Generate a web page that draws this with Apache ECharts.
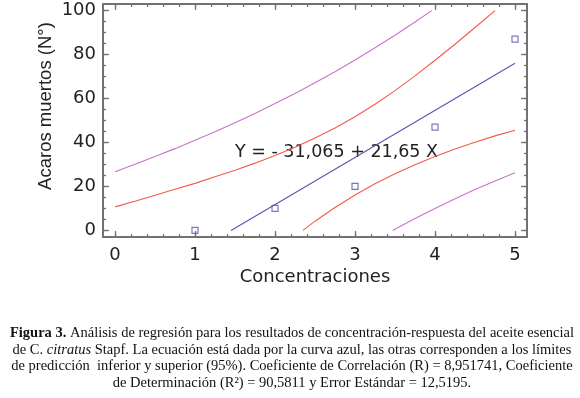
<!DOCTYPE html>
<html>
<head>
<meta charset="utf-8">
<script src="https://cdn.jsdelivr.net/npm/echarts@6/dist/echarts.min.js"></script>
<style>html,body{margin:0;padding:0;background:#fff}#c{width:580px;height:398px}</style>
</head>
<body>
<div id="c"></div>
<script>
// Observed data points
const concentraciones = [1, 2, 3, 4, 5];
const acarosMuertos = [0, 10, 20, 47, 87];
// Regression line (blue)
const ajuste = [[1.45, 0], [5, 76]];
// Upper / lower confidence limits (red)
const limSupConf = [[0, 10.7], [0.25, 13.3], [0.5, 16], [0.75, 18.7], [1, 21.4], [1.25, 24.4], [1.5, 27.4], [1.75, 30.6], [2, 34.1], [2.25, 37.8], [2.5, 42], [2.75, 46.6], [3, 51.7], [3.25, 57.4], [3.5, 63.6], [3.75, 70.3], [4, 77.4], [4.25, 84.7], [4.5, 92.3], [4.75, 100]];
const limInfConf = [[2.35, 0], [2.5, 4.2], [2.75, 10.4], [3, 16.1], [3.25, 21.2], [3.5, 25.8], [3.75, 29.9], [4, 33.6], [4.25, 37], [4.5, 40.1], [4.75, 43], [5, 45.6]];
// Upper / lower prediction limits (purple)
const limSupPred = [[0, 26.7], [0.25, 30.1], [0.5, 33.6], [0.75, 37.2], [1, 41], [1.25, 44.9], [1.5, 49], [1.75, 53.2], [2, 57.7], [2.25, 62.3], [2.5, 67.2], [2.75, 72.2], [3, 77.5], [3.25, 83.1], [3.5, 88.8], [3.75, 94.8], [3.96, 100]];
const limInfPred = [[3.47, 0], [3.75, 5.4], [4, 10], [4.25, 14.4], [4.5, 18.6], [4.75, 22.5], [5, 26.2]];
// Tick labels
const xTickLabels = [0, 1, 2, 3, 4, 5];
const yTickLabels = [0, 20, 40, 60, 80, 100];
const equation = 'Y = - 31,065 + 21,65 X';

const xMinor = []; for (let i = 0; i <= 25; i++) xMinor.push(+(i * 0.2).toFixed(2));
const yMinor = []; for (let i = 0; i <= 20; i++) yMinor.push(i * 5);

const AX = '#727272';
const XMIN = -0.15, XMAX = 5.15, YMIN = -3, YMAX = 103;

function axis(pos, min, max, vals, len, labels, lineShow, extraLabel) {
  return {
    type: 'value', position: pos, min: min, max: max,
    axisLine: {show: lineShow, onZero: false, lineStyle: {color: AX, width: 2}},
    axisTick: {show: true, inside: true, length: len, customValues: vals, lineStyle: {color: AX, width: 1.3}},
    axisLabel: labels ? Object.assign({customValues: vals, fontSize: 18, fontFamily: 'DejaVu Sans', color: '#222'}, extraLabel || {}) : {show: false},
    splitLine: {show: false}
  };
}

const chart = echarts.init(document.getElementById('c'), null, {renderer: 'canvas'});
const lineS = (data, color) => ({type: 'line', data: data, showSymbol: false, smooth: false, lineStyle: {color: color, width: 1.1}, itemStyle: {color: color}, z: 2});
const PURPLE = '#cc72cc', RED = '#f45a4c', BLUE = '#5656b2';
const CAP = '14.5px "Liberation Serif"';

chart.setOption({
  animation: false,
  backgroundColor: '#fff',
  grid: {left: 103, top: 4, right: 53, bottom: 161},
  xAxis: [
    axis('bottom', XMIN, XMAX, xTickLabels, 6, true, true, {margin: 9}),
    axis('bottom', XMIN, XMAX, xMinor, 3, false, false),
    axis('top', XMIN, XMAX, xTickLabels, 6, false, true),
    axis('top', XMIN, XMAX, xMinor, 3, false, false)
  ],
  yAxis: [
    axis('left', YMIN, YMAX, yTickLabels, 6, true, true, {margin: 7}),
    axis('left', YMIN, YMAX, yMinor, 3, false, false),
    axis('right', YMIN, YMAX, yTickLabels, 6, false, true),
    axis('right', YMIN, YMAX, yMinor, 3, false, false)
  ],
  series: [
    lineS(limSupPred, PURPLE),
    lineS(limInfPred, PURPLE),
    lineS(limSupConf, RED),
    lineS(limInfConf, RED),
    lineS(ajuste, BLUE),
    {type: 'scatter', data: concentraciones.map((c, i) => [c, acarosMuertos[i]]), symbol: 'rect', symbolSize: 6,
     itemStyle: {color: 'rgba(255,255,255,0)', borderColor: BLUE, borderWidth: 1.2}, z: 3}
  ],
  graphic: [
    {type: 'text', left: 235, top: 143, style: {text: equation, font: '17.5px "DejaVu Sans"', fill: '#222'}},
    {type: 'text', x: 315, y: 277, style: {text: 'Concentraciones', font: '18px "DejaVu Sans"', fill: '#222', align: 'center', verticalAlign: 'middle'}},
    {type: 'text', x: 46, y: 106, rotation: Math.PI / 2, style: {text: 'Acaros muertos (N°)', font: '18.5px "Liberation Sans"', fill: '#222', align: 'center', verticalAlign: 'middle'}},
    {type: 'text', x: 292, y: 333, style: {text: '{b|Figura 3.} Análisis de regresión para los resultados de concentración-respuesta del aceite esencial', align: 'center', verticalAlign: 'middle', font: CAP, fill: '#111', rich: {b: {font: 'bold ' + CAP, fill: '#111'}}}},
    {type: 'text', x: 292, y: 350, style: {text: 'de C. {i|citratus} Stapf. La ecuación está dada por la curva azul, las otras corresponden a los límites', align: 'center', verticalAlign: 'middle', font: CAP, fill: '#111', rich: {i: {font: 'italic ' + CAP, fill: '#111'}}}},
    {type: 'text', x: 292, y: 366, style: {text: 'de predicción  inferior y superior (95%). Coeficiente de Correlación (R) = 8,951741, Coeficiente', align: 'center', verticalAlign: 'middle', font: CAP, fill: '#111'}},
    {type: 'text', x: 292, y: 383, style: {text: 'de Determinación (R²) = 90,5811 y Error Estándar = 12,5195.', align: 'center', verticalAlign: 'middle', font: CAP, fill: '#111'}}
  ]
});
</script>
</body>
</html>
